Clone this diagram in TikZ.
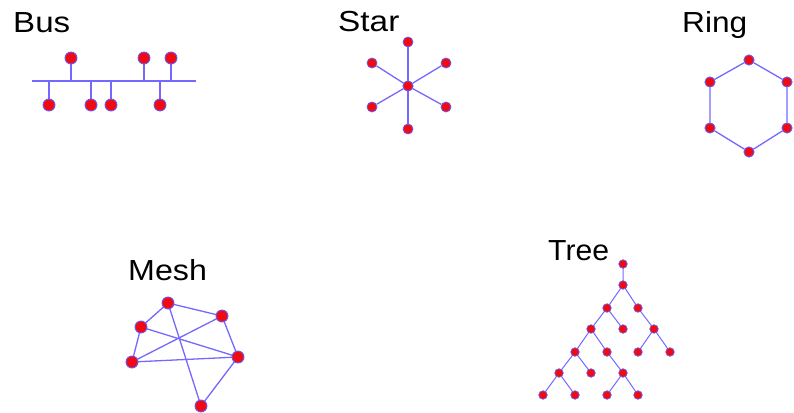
\documentclass[tikz,border=0pt]{standalone}
\usepackage{fontspec}
\setmainfont{Liberation Sans}
\definecolor{nodered}{HTML}{F00A14}
\definecolor{nodeedge}{HTML}{6A5AF0}
\definecolor{wire}{HTML}{7468FF}
\begin{document}
\begin{tikzpicture}[x=1pt,y=-1pt,
  title/.style={anchor=base west,inner sep=0pt,font=\fontsize{29}{32}\selectfont},
  dotbig/.style={circle,fill=nodered,draw=nodeedge,line width=0.9pt,inner sep=0pt,minimum size=12pt},
  dotmid/.style={circle,fill=nodered,draw=nodeedge,line width=0.8pt,inner sep=0pt,minimum size=10pt},
  dotsmall/.style={circle,fill=nodered,draw=nodeedge,line width=0.7pt,inner sep=0pt,minimum size=8.5pt},
  link/.style={draw=wire,line width=1.3pt},
  thinlink/.style={draw=wire,line width=1pt}]
\useasboundingbox (0,0) rectangle (794,412);

% ---------- titles ----------
\node[title] (tbus)  at (13,33)  {\scalebox{1.14}[1]{Bus}};
\node[title] (tstar) at (338,32) {\scalebox{1.15}[1]{Star}};
\node[title] (tring) at (682,33) {\scalebox{1.09}[1]{Ring}};
\node[title] (tmesh) at (128,280){\scalebox{1.11}[1]{Mesh}};
\node[title] (ttree) at (548,260){\scalebox{1.04}[1]{Tree}};

% ---------- bus ----------
\coordinate (bl) at (32,81);
\coordinate (br) at (196,81);
\draw[link] (bl) -- (br);
\foreach \n/\x/\y in {u1/71/58,u2/144/58,u3/171/58,d1/49/105,d2/91/105,d3/111/105,d4/160/105}{
  \coordinate (b\n) at (\x,81);
  \draw[link] (b\n) -- (\x,\y);
  \node[dotbig] (\n) at (\x,\y) {};
}

% ---------- star ----------
\node[dotmid] (sc) at (408,86) {};
\foreach \n/\x/\y in {s1/408/42,s2/446/63,s3/446/107,s4/408/129,s5/372/107,s6/372/63}{
  \node[dotmid] (\n) at (\x,\y) {};
  \draw[link] (sc) -- (\n);
}
\node[dotmid] at (sc) {};

% ---------- ring ----------
\foreach \n/\x/\y in {r1/749/60,r2/787/82,r3/787/128,r4/749/152,r5/710/128,r6/710/82}{
  \node[dotmid] (\n) at (\x,\y) {};
}
\begin{scope}[on background layer/.try]
\draw[link] (r1) -- (r2) -- (r3) -- (r4) -- (r5) -- (r6) -- (r1);
\end{scope}
\foreach \n in {r1,r2,r3,r4,r5,r6}{\node[dotmid] at (\n) {};}

% ---------- mesh ----------
\coordinate (ma) at (168,303);
\coordinate (mb) at (222,316);
\coordinate (mc) at (141,327);
\coordinate (md) at (132,362);
\coordinate (me) at (238,357);
\coordinate (mf) at (201,406);
\draw[link] (ma) -- (mc) (ma) -- (mb) (ma) -- (mf) (mc) -- (md) (mc) -- (me)
  (md) -- (mb) (md) -- (me) (mb) -- (me) (me) -- (mf);
\foreach \n in {ma,mb,mc,md,me,mf}{\node[dotbig] (n\n) at (\n) {};}

% ---------- tree ----------
\foreach \n/\x/\y in {t0/623/264,t1/623/285,t2/607/308,t3/638/308,t4/591/329,t5/623/329,
  t6/654/329,t7/638/352,t8/670/352,t9/575/352,t10/607/352,t11/559/373,t12/591/373,
  t13/623/373,t14/543/395,t15/575/395,t16/607/395,t17/638/395}{
  \coordinate (\n) at (\x,\y);
}
\draw[thinlink] (t0) -- (t1) (t1) -- (t2) (t1) -- (t3) (t2) -- (t4) (t2) -- (t5)
  (t3) -- (t6) (t6) -- (t7) (t6) -- (t8) (t4) -- (t9) (t4) -- (t10)
  (t9) -- (t11) (t9) -- (t12) (t10) -- (t13) (t11) -- (t14) (t11) -- (t15)
  (t13) -- (t16) (t13) -- (t17);
\foreach \n in {t0,t1,t2,t3,t4,t5,t6,t7,t8,t9,t10,t11,t12,t13,t14,t15,t16,t17}{
  \node[dotsmall] (n\n) at (\n) {};
}
\end{tikzpicture}
\end{document}
